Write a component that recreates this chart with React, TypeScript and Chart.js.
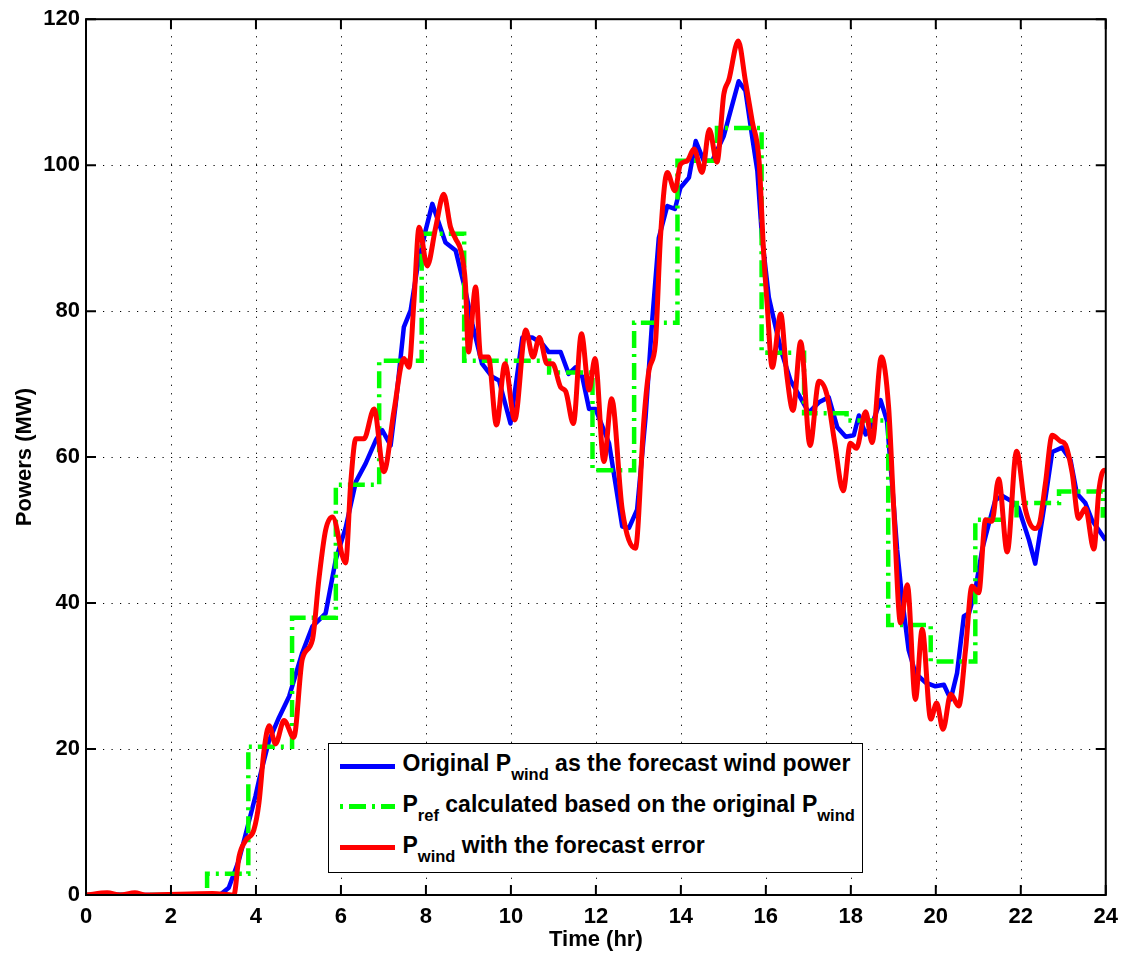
import React, { useEffect, useRef } from 'react';
import { Chart, registerables } from 'chart.js';

Chart.register(...registerables);

// ---------------- data ----------------
const X_TICKS = [0, 2, 4, 6, 8, 10, 12, 14, 16, 18, 20, 22, 24];
const Y_TICKS = [0, 20, 40, 60, 80, 100, 120];

// Original P_wind (forecast wind power)
const BLUE_T = [
  0, 0.5, 1.0, 2.0, 3.0, 3.15, 3.36, 3.6, 3.76, 3.99, 4.07, 4.31, 4.54, 4.78, 5.09, 5.33, 5.64, 5.88,
  6.11, 6.35, 6.58, 6.82, 6.97, 7.17, 7.29, 7.48, 7.64, 7.8, 7.99, 8.15, 8.46, 8.7, 8.93,
  9.09, 9.32, 9.56, 9.72, 9.99, 10.27, 10.5, 10.74, 10.89, 11.17, 11.36, 11.52, 11.68,
  11.84, 11.99, 12.31, 12.46, 12.62, 12.78, 12.97, 13.17, 13.32, 13.48, 13.68, 13.86,
  13.99, 14.19, 14.35, 14.54, 14.74, 15.01, 15.21, 15.36, 15.52, 15.68, 15.8, 15.91,
  16.07, 16.23, 16.38, 16.58, 16.78, 17.01, 17.25, 17.48, 17.68, 17.88, 18.07, 18.19,
  18.35, 18.5, 18.7, 18.85, 18.97, 19.09, 19.21, 19.36, 19.52, 19.76, 19.99, 20.19,
  20.35, 20.5, 20.66, 20.78, 20.93, 21.09, 21.25, 21.4, 21.56, 21.8, 21.95, 22.19,
  22.34, 22.54, 22.74, 22.97, 23.17, 23.32, 23.52, 23.68, 24.0,
];
const BLUE_V = [
  0, 0.1, 0, 0, 0, 0, 1.0, 4.8, 8.4, 13.6, 15.7, 21.2, 24.3, 27.2, 33.2, 36.8, 38.6, 46.0,
  50.3, 56.6, 59.1, 62.3, 63.7, 61.6, 67.3, 77.8, 80.1, 86.0, 91.0, 94.7, 89.4, 88.3, 82.8,
  78.3, 72.8, 71.0, 70.5, 64.6, 76.4, 76.4, 75.5, 74.4, 74.4, 71.4, 72.3, 71.0,
  66.6, 66.6, 61.9, 56.4, 50.5, 50.3, 52.8, 65.5, 78.3, 90.0, 94.4, 94.0,
  96.9, 98.3, 103.3, 100.6, 100.6, 104.0, 108.3, 111.5, 110.2, 103.8, 99.2, 90.1,
  81.9, 77.8, 74.2, 70.5, 68.5, 66.1, 67.5, 68.2, 64.1, 62.8, 63.0, 65.7,
  63.1, 64.5, 67.8, 65.0, 56.4, 47.3, 40.5, 33.6, 30.4, 29.1, 28.6, 28.8,
  26.8, 30.4, 38.2, 38.6, 41.8, 47.3, 50.9, 54.1, 54.7, 53.9, 53.0, 48.7,
  45.4, 52.8, 60.7, 61.3, 59.6, 55.0, 53.7, 51.3, 48.6,
];

// P_ref calculated from the original P_wind (step values, start time of each step)
const PREF_T = [
  0, 2.85, 3.82, 4.85, 5.88, 6.9, 7.9, 8.9, 10.9, 11.92, 12.9, 13.92, 14.85, 15.9,
  16.9, 17.9, 18.88, 19.88, 20.93, 21.9, 22.9, 23.93, 24,
];
const PREF_V = [
  0, 2.9, 20.3, 38.0, 56.2, 73.2, 90.6, 73.2, 71.6, 58.2, 78.4, 100.6, 105.1, 74.3,
  66.0, 65.0, 37.0, 32.0, 51.4, 53.7, 55.3, 52.0, 52.0,
];

// P_wind with the forecast error
const RED_T = [
  0, 0.5, 0.8, 1.15, 1.4, 2.98, 3.48, 3.6, 3.76, 3.95, 4.07, 4.19, 4.31, 4.46, 4.66, 4.89,
  5.09, 5.33, 5.48, 5.64, 5.8, 6.11, 6.23, 6.35, 6.54, 6.78, 7.01, 7.25, 7.48, 7.6, 7.72,
  7.84, 8.03, 8.23, 8.42, 8.58, 8.7, 8.82, 8.93, 9.0, 9.17, 9.29, 9.47, 9.66, 9.86, 10.09,
  10.35, 10.52, 10.67, 10.85, 10.98, 11.17, 11.29, 11.47, 11.66, 11.84, 11.98, 12.19,
  12.37, 12.62, 12.93, 13.13, 13.25, 13.4, 13.52, 13.68, 13.86, 13.99, 14.15, 14.31,
  14.5, 14.67, 14.85, 15.01, 15.13, 15.35, 15.52, 15.68, 15.84, 15.95, 16.03, 16.15,
  16.35, 16.49, 16.64, 16.82, 17.04, 17.25, 17.44, 17.62, 17.82, 17.99, 18.13, 18.35,
  18.5, 18.72, 18.89, 19.01, 19.17, 19.33, 19.52, 19.68, 19.88, 20.02, 20.17, 20.35,
  20.54, 20.7, 20.85, 21.01, 21.17, 21.32, 21.48, 21.68, 21.9, 22.11, 22.33, 22.44,
  22.58, 22.74, 22.93, 23.05, 23.21, 23.36, 23.52, 23.72, 23.84, 23.96, 24.0,
];
const RED_V = [
  0, 0.3, 0, 0.3, 0, 0.2, 0, 5.2, 7.5, 8.9, 12.6, 19.8, 23.2, 20.7, 23.9, 21.6,
  32.3, 35.0, 43.2, 50.0, 51.8, 45.5, 56.4, 62.5, 62.5, 66.6, 58.0, 66.4, 73.5, 72.3, 81.5,
  91.5, 86.2, 91.5, 96.0, 91.5, 89.9, 88.3, 83.7, 74.4, 83.3, 73.7, 73.7, 64.4, 72.8, 65.1,
  77.4, 73.7, 76.4, 72.8, 72.8, 69.6, 69.0, 64.6, 76.9, 69.2, 73.5, 59.4,
  68.0, 52.8, 47.5, 65.1, 71.9, 75.5, 90.1, 99.0, 96.5, 100.1, 100.6, 102.2,
  99.0, 104.9, 100.4, 109.7, 111.7, 117.0, 111.5, 106.0, 100.6, 87.8, 81.0, 72.3,
  79.6, 71.4, 66.4, 75.8, 61.6, 70.4, 68.5, 62.0, 55.4, 61.9, 61.2, 66.2,
  62.0, 73.7, 66.8, 53.0, 37.3, 42.5, 26.8, 36.4, 24.1, 26.3, 22.7, 27.5,
  25.9, 33.6, 42.3, 41.4, 51.4, 51.2, 57.0, 47.0, 60.8, 52.8, 50.2, 50.9,
  56.4, 63.0, 62.2, 61.7, 57.8, 51.6, 53.0, 47.4, 55.5, 58.2, 58.0,
];

const FONT = "'Liberation Sans', Arial, Helvetica, sans-serif";

const toPoints = (t: number[], v: number[]) => t.map((x, i) => ({ x, y: v[i] }));

// grid, box and inward ticks (MATLAB style)
const framePlugin = {
  id: 'matlabFrame',
  beforeDatasetsDraw(chart: any) {
    const { ctx, chartArea: a, scales } = chart;
    const xs = scales.x;
    const ys = scales.y;
    ctx.save();
    ctx.strokeStyle = '#000';
    ctx.lineWidth = 1;
    ctx.setLineDash([1.2, 7.3]);
    X_TICKS.forEach((v) => {
      if (v <= xs.min || v >= xs.max) return;
      const px = Math.round(xs.getPixelForValue(v)) + 0.5;
      ctx.beginPath();
      ctx.moveTo(px, a.top);
      ctx.lineTo(px, a.bottom);
      ctx.stroke();
    });
    Y_TICKS.forEach((v) => {
      if (v <= ys.min || v >= ys.max) return;
      const py = Math.round(ys.getPixelForValue(v)) + 0.5;
      ctx.beginPath();
      ctx.moveTo(a.left, py);
      ctx.lineTo(a.right, py);
      ctx.stroke();
    });
    ctx.restore();
  },
  afterDatasetsDraw(chart: any) {
    const { ctx, chartArea: a, scales } = chart;
    const xs = scales.x;
    const ys = scales.y;
    const tl = 10;
    ctx.save();
    ctx.strokeStyle = '#000';
    ctx.lineWidth = 2;
    ctx.setLineDash([]);
    ctx.strokeRect(a.left, a.top, a.right - a.left, a.bottom - a.top);
    ctx.beginPath();
    X_TICKS.forEach((v) => {
      const px = xs.getPixelForValue(v);
      ctx.moveTo(px, a.bottom);
      ctx.lineTo(px, a.bottom - tl);
      ctx.moveTo(px, a.top);
      ctx.lineTo(px, a.top + tl);
    });
    Y_TICKS.forEach((v) => {
      const py = ys.getPixelForValue(v);
      ctx.moveTo(a.left, py);
      ctx.lineTo(a.left + tl, py);
      ctx.moveTo(a.right, py);
      ctx.lineTo(a.right - tl, py);
    });
    ctx.stroke();
    ctx.restore();
  },
};

function Legend() {
  const text: React.CSSProperties = {
    position: 'absolute',
    left: 73.5,
    fontFamily: FONT,
    fontWeight: 'bold',
    fontSize: 23,
    lineHeight: '26px',
    whiteSpace: 'nowrap',
    color: '#000',
  };
  const sub: React.CSSProperties = { fontSize: 16.5, verticalAlign: '-8.5px', lineHeight: '1' };
  const sample: React.CSSProperties = { position: 'absolute', left: 11, width: 55 };
  return (
    <div
      style={{
        position: 'absolute',
        left: 328,
        top: 743,
        width: 535,
        height: 130,
        border: '1.5px solid #000',
        boxSizing: 'border-box',
        background: '#fff',
      }}
    >
      <div style={{ ...sample, top: 22.3 - 2.2, height: 4.5, background: '#0000ff' }} />
      <div
        style={{
          ...sample,
          top: 62.7 - 2.5,
          height: 5,
          background:
            'repeating-linear-gradient(90deg, #00ff00 0px 3px, transparent 3px 9px, #00ff00 9px 26px, transparent 26px 32px)',
        }}
      />
      <div style={{ ...sample, top: 103.3 - 2.5, height: 5, background: '#ff0000' }} />
      <div style={{ ...text, top: 6.2 }}>
        Original P<span style={sub}>wind</span> as the forecast wind power
      </div>
      <div style={{ ...text, top: 46.8 }}>
        P<span style={sub}>ref</span> calculated based on the original P<span style={sub}>wind</span>
      </div>
      <div style={{ ...text, top: 87.8 }}>
        P<span style={sub}>wind</span> with the forecast error
      </div>
    </div>
  );
}

export default function App() {
  const ref = useRef<HTMLCanvasElement>(null);

  useEffect(() => {
    if (!ref.current) return;
    const tickFont = { family: FONT, size: 22, weight: 'bold' as const };
    const chart = new Chart(ref.current, {
      type: 'line',
      data: {
        datasets: [
          {
            label: 'P_wind with the forecast error',
            data: toPoints(RED_T, RED_V),
            borderColor: '#ff0000',
            borderWidth: 5,
            pointRadius: 0,
            cubicInterpolationMode: 'monotone',
            borderJoinStyle: 'round',
            order: 0,
          },
          {
            label: 'P_ref calculated based on the original P_wind',
            data: toPoints(PREF_T, PREF_V),
            borderColor: '#00ff00',
            borderWidth: 4.5,
            borderDash: [17, 6, 3, 6],
            stepped: true,
            pointRadius: 0,
            order: 1,
          },
          {
            label: 'Original P_wind as the forecast wind power',
            data: toPoints(BLUE_T, BLUE_V),
            borderColor: '#0000ff',
            borderWidth: 4.5,
            pointRadius: 0,
            tension: 0,
            borderJoinStyle: 'round',
            order: 2,
          },
        ],
      },
      options: {
        animation: false,
        responsive: false,
        maintainAspectRatio: false,
        devicePixelRatio: 1,
        layout: { padding: { top: 16, right: 21, left: 0, bottom: 0 } },
        plugins: { legend: { display: false }, tooltip: { enabled: false } },
        scales: {
          x: {
            type: 'linear',
            min: 0,
            max: 24,
            afterFit: (s: any) => {
              s.height = 62;
            },
            afterBuildTicks: (s: any) => {
              s.ticks = X_TICKS.map((v) => ({ value: v }));
            },
            grid: { display: false, drawTicks: false },
            border: { display: false },
            ticks: { color: '#000', font: tickFont, padding: 9, maxRotation: 0, autoSkip: false },
            title: {
              display: true,
              text: 'Time (hr)',
              color: '#000',
              font: tickFont,
              padding: { top: 0, bottom: 4 },
            },
          },
          y: {
            type: 'linear',
            min: 0,
            max: 120,
            afterFit: (s: any) => {
              s.width = 86;
            },
            afterBuildTicks: (s: any) => {
              s.ticks = Y_TICKS.map((v) => ({ value: v }));
            },
            grid: { display: false, drawTicks: false },
            border: { display: false },
            ticks: { color: '#000', font: tickFont, padding: 6, autoSkip: false },
            title: {
              display: true,
              text: 'Powers (MW)',
              color: '#000',
              font: tickFont,
              padding: { top: 12, bottom: 0 },
            },
          },
        },
      },
      plugins: [framePlugin],
    } as any);
    return () => chart.destroy();
  }, []);

  return (
    <div
      style={{
        position: 'absolute',
        left: 0,
        top: 0,
        width: 1127,
        height: 957,
        background: '#fff',
        overflow: 'hidden',
      }}
    >
      <canvas ref={ref} width={1127} height={957} style={{ display: 'block', width: 1127, height: 957 }} />
      <Legend />
    </div>
  );
}
